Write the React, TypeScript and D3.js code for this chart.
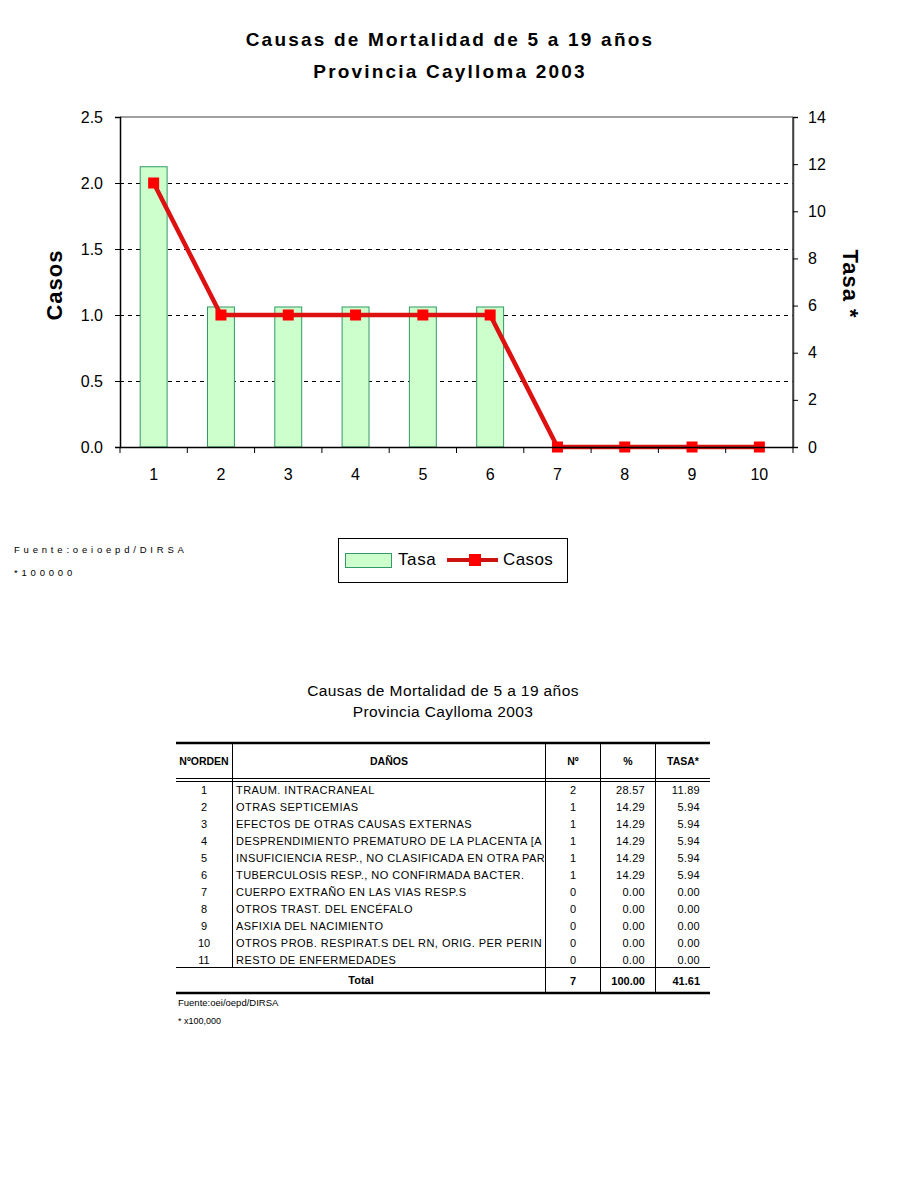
import React, { useEffect, useRef } from 'react';
import * as d3 from 'd3';

// grafico
const categorias = ['1', '2', '3', '4', '5', '6', '7', '8', '9', '10'];
const casos = [2, 1, 1, 1, 1, 1, 0, 0, 0, 0];
const tasa = [11.89, 5.94, 5.94, 5.94, 5.94, 5.94, 0, 0, 0, 0];
const casosTicks = [0, 0.5, 1, 1.5, 2, 2.5];
const tasaTicks = [0, 2, 4, 6, 8, 10, 12, 14];

// tabla (los textos largos se ven cortados en la celda)
const orden = ['1', '2', '3', '4', '5', '6', '7', '8', '9', '10', '11'];
const danos = [
  'TRAUM. INTRACRANEAL',
  'OTRAS SEPTICEMIAS',
  'EFECTOS DE OTRAS CAUSAS EXTERNAS',
  'DESPRENDIMIENTO PREMATURO DE LA PLACENTA [A',
  'INSUFICIENCIA RESP., NO CLASIFICADA EN OTRA PAR',
  'TUBERCULOSIS RESP., NO CONFIRMADA BACTER.',
  'CUERPO EXTRAÑO EN LAS VIAS RESP.S',
  'OTROS TRAST. DEL ENCÉFALO',
  'ASFIXIA DEL NACIMIENTO',
  'OTROS PROB. RESPIRAT.S DEL RN, ORIG. PER PERIN',
  'RESTO DE ENFERMEDADES',
];
const numero = [2, 1, 1, 1, 1, 1, 0, 0, 0, 0, 0];
const porcentaje = ['28.57', '14.29', '14.29', '14.29', '14.29', '14.29', '0.00', '0.00', '0.00', '0.00', '0.00'];
const tasaTabla = ['11.89', '5.94', '5.94', '5.94', '5.94', '5.94', '0.00', '0.00', '0.00', '0.00', '0.00'];
const total = { numero: '7', porcentaje: '100.00', tasa: '41.61' };

const FONT = 'Arial, "Liberation Sans", sans-serif';

export default () => {
  const svgRef = useRef<SVGSVGElement>(null);

  useEffect(() => {
    if (!svgRef.current) {
      return;
    }
    document.body.style.margin = '0';

    const svg = d3.select(svgRef.current);
    svg.selectAll('*').remove();
    svg.attr('width', 900).attr('height', 1200).style('font-family', FONT).style('background', '#fff');

    // titulo
    const titulo = svg.append('g').attr('font-weight', 'bold').attr('font-size', 19).attr('letter-spacing', 2.2).attr('text-anchor', 'middle');
    titulo.append('text').attr('x', 450).attr('y', 46).text('Causas de Mortalidad de 5 a 19 años');
    titulo.append('text').attr('x', 450).attr('y', 78).text('Provincia Caylloma 2003');

    const left = 120, right = 793, top = 117, bottom = 447;

    const x = d3.scaleBand().domain(categorias).range([left, right]).paddingInner(0.6).paddingOuter(0.3);
    const xc = d3.scaleBand().domain(categorias).range([left, right]);
    const yL = d3.scaleLinear().domain([0, 2.5]).range([bottom, top]);
    const yR = d3.scaleLinear().domain([0, 14]).range([bottom, top]);

    // rejilla
    svg.append('g').selectAll('line').data(casosTicks.filter((t) => t > 0 && t < 2.5)).enter().append('line')
      .attr('x1', left).attr('x2', right).attr('y1', (d) => Math.round(yL(d)) + 0.5).attr('y2', (d) => Math.round(yL(d)) + 0.5)
      .attr('stroke', '#000').attr('stroke-dasharray', '4,4').attr('stroke-width', 1);

    // barras
    svg.append('g').selectAll('rect').data(tasa).enter().append('rect')
      .attr('x', (d, i) => x(categorias[i])!)
      .attr('width', x.bandwidth())
      .attr('y', (d) => yR(d))
      .attr('height', (d) => bottom - yR(d))
      .attr('fill', '#ccffcc').attr('stroke', '#339966').attr('stroke-width', 1);

    // marco
    svg.append('line').attr('x1', left).attr('x2', right).attr('y1', top).attr('y2', top).attr('stroke', '#808080').attr('stroke-width', 1.5);
    svg.append('line').attr('x1', right).attr('x2', right).attr('y1', top).attr('y2', bottom).attr('stroke', '#404040').attr('stroke-width', 1.5);

    // linea casos
    const line = d3.line<number>().x((d, i) => xc(categorias[i])! + xc.bandwidth() / 2).y((d) => yL(d));
    svg.append('path').datum(casos).attr('d', line).attr('fill', 'none').attr('stroke', '#dd1111').attr('stroke-width', 4.5);
    svg.append('g').selectAll('rect').data(casos).enter().append('rect')
      .attr('x', (d, i) => xc(categorias[i])! + xc.bandwidth() / 2 - 5.5)
      .attr('y', (d) => yL(d) - 5.5)
      .attr('width', 11).attr('height', 11).attr('fill', '#ff0000');

    // ejes
    const axisL = svg.append('g').attr('transform', `translate(${left},0)`)
      .call(d3.axisLeft(yL).tickValues(casosTicks).tickFormat(d3.format('.1f')).tickSize(5).tickPadding(12));
    const axisR = svg.append('g').attr('transform', `translate(${right},0)`)
      .call(d3.axisRight(yR).tickValues(tasaTicks).tickSize(5).tickPadding(10));
    const axisB = svg.append('g').attr('transform', `translate(0,${bottom})`)
      .call(d3.axisBottom(xc).tickSize(0).tickPadding(22));
    [axisL, axisR, axisB].forEach((a) => {
      a.selectAll('text').attr('font-size', 16).attr('font-family', FONT).attr('fill', '#000');
      a.selectAll('line').attr('stroke', '#000');
    });
    axisL.select('.domain').attr('stroke', '#000').attr('stroke-width', 1.5);
    axisR.select('.domain').attr('stroke', '#404040').attr('stroke-width', 1.5);
    axisB.select('.domain').attr('stroke', '#000').attr('stroke-width', 1.5);
    // marcas entre categorias
    svg.append('g').selectAll('line').data([...categorias, 'fin']).enter().append('line')
      .attr('x1', (d, i) => left + i * xc.step()).attr('x2', (d, i) => left + i * xc.step())
      .attr('y1', bottom).attr('y2', bottom + 6).attr('stroke', '#000').attr('stroke-width', 1);

    // titulos de ejes
    svg.append('text').attr('transform', 'translate(62,285) rotate(-90)').attr('text-anchor', 'middle')
      .attr('font-size', 22).attr('font-weight', 'bold').attr('letter-spacing', 1).text('Casos');
    svg.append('text').attr('transform', 'translate(843,284) rotate(90)').attr('text-anchor', 'middle')
      .attr('font-size', 22).attr('font-weight', 'bold').attr('letter-spacing', 1).text('Tasa *');

    // notas
    svg.append('text').attr('x', 14).attr('y', 553).attr('font-size', 9.5).attr('letter-spacing', 3.8).text('Fuente:oeioepd/DIRSA');
    svg.append('text').attr('x', 14).attr('y', 576).attr('font-size', 9.5).attr('letter-spacing', 3.8).text('*100000');

    // leyenda
    const leg = svg.append('g');
    leg.append('rect').attr('x', 338.5).attr('y', 538.5).attr('width', 229).attr('height', 44).attr('fill', '#fff').attr('stroke', '#000');
    leg.append('rect').attr('x', 345.5).attr('y', 553.5).attr('width', 46).attr('height', 14).attr('fill', '#ccffcc').attr('stroke', '#339966');
    leg.append('text').attr('x', 398).attr('y', 565).attr('font-size', 17).attr('letter-spacing', 0.6).text('Tasa');
    leg.append('line').attr('x1', 447).attr('x2', 498).attr('y1', 560).attr('y2', 560).attr('stroke', '#cc1111').attr('stroke-width', 4);
    leg.append('rect').attr('x', 469).attr('y', 554).attr('width', 12).attr('height', 12).attr('fill', '#ff0000');
    leg.append('text').attr('x', 503).attr('y', 565).attr('font-size', 17).attr('letter-spacing', 0.4).text('Casos');

    // ===== tabla =====
    const tt = svg.append('g').attr('font-size', 15.5).attr('letter-spacing', 0.4).attr('text-anchor', 'middle');
    tt.append('text').attr('x', 443).attr('y', 696).text('Causas de Mortalidad de 5 a 19 años');
    tt.append('text').attr('x', 443).attr('y', 717).text('Provincia Caylloma 2003');

    const tL = 176, tR = 710;
    const cols = [232, 545, 600, 655];
    const hTop = 743, hBot = 778, rowStart = 782, totTop = 967, tBot = 993;
    const rowY = d3.scaleBand().domain(orden).range([rowStart, rowStart + 17 * orden.length]);

    svg.append('clipPath').attr('id', 'clipDanos').append('rect').attr('x', 233).attr('y', hBot).attr('width', cols[1] - 234).attr('height', totTop - hBot);

    const tbl = svg.append('g');
    tbl.append('line').attr('x1', tL).attr('x2', tR).attr('y1', hTop).attr('y2', hTop).attr('stroke', '#000').attr('stroke-width', 2.5);
    tbl.append('line').attr('x1', tL).attr('x2', tR).attr('y1', hBot + 0.5).attr('y2', hBot + 0.5).attr('stroke', '#000').attr('stroke-width', 1);
    tbl.append('line').attr('x1', tL).attr('x2', tR).attr('y1', hBot + 3.5).attr('y2', hBot + 3.5).attr('stroke', '#000').attr('stroke-width', 1);
    tbl.append('line').attr('x1', tL).attr('x2', tR).attr('y1', totTop + 0.5).attr('y2', totTop + 0.5).attr('stroke', '#000').attr('stroke-width', 1);
    tbl.append('line').attr('x1', tL).attr('x2', tR).attr('y1', tBot).attr('y2', tBot).attr('stroke', '#000').attr('stroke-width', 2.5);
    cols.forEach((c, i) => {
      tbl.append('line').attr('x1', c + 0.5).attr('x2', c + 0.5).attr('y1', hTop).attr('y2', i === 0 ? totTop : tBot).attr('stroke', '#000').attr('stroke-width', 1);
    });

    const hdr = tbl.append('g').attr('font-size', 10.5).attr('font-weight', 'bold').attr('text-anchor', 'middle');
    hdr.append('text').attr('x', 204).attr('y', 765).text('NºORDEN');
    hdr.append('text').attr('x', 389).attr('y', 765).text('DAÑOS');
    hdr.append('text').attr('x', 573).attr('y', 765).text('Nº');
    hdr.append('text').attr('x', 628).attr('y', 765).text('%');
    hdr.append('text').attr('x', 683).attr('y', 765).text('TASA*');

    const body = tbl.append('g').attr('font-size', 11);
    const ty = (d: string) => rowY(d)! + 12;
    body.append('g').selectAll('text').data(orden).enter().append('text')
      .attr('x', 204).attr('y', ty).attr('text-anchor', 'middle').text((d) => d);
    body.append('g').attr('clip-path', 'url(#clipDanos)').selectAll('text').data(orden).enter().append('text')
      .attr('x', 236).attr('y', ty).attr('letter-spacing', 0.45).text((d, i) => danos[i]);
    body.append('g').selectAll('text').data(orden).enter().append('text')
      .attr('x', 573).attr('y', ty).attr('text-anchor', 'middle').text((d, i) => numero[i]);
    body.append('g').selectAll('text').data(orden).enter().append('text')
      .attr('x', 645).attr('y', ty).attr('text-anchor', 'end').attr('letter-spacing', 0.3).text((d, i) => porcentaje[i]);
    body.append('g').selectAll('text').data(orden).enter().append('text')
      .attr('x', 700).attr('y', ty).attr('text-anchor', 'end').attr('letter-spacing', 0.3).text((d, i) => tasaTabla[i]);

    const tot = tbl.append('g').attr('font-size', 11).attr('font-weight', 'bold');
    tot.append('text').attr('x', 361).attr('y', 984).attr('text-anchor', 'middle').text('Total');
    tot.append('text').attr('x', 573).attr('y', 985).attr('text-anchor', 'middle').text(total.numero);
    tot.append('text').attr('x', 645).attr('y', 985).attr('text-anchor', 'end').text(total.porcentaje);
    tot.append('text').attr('x', 700).attr('y', 985).attr('text-anchor', 'end').text(total.tasa);

    tbl.append('text').attr('x', 178).attr('y', 1006).attr('font-size', 9.5).text('Fuente:oei/oepd/DIRSA');
    tbl.append('text').attr('x', 178).attr('y', 1024).attr('font-size', 9).text('* x100,000');
  }, []);

  return <svg ref={svgRef} />;
};
